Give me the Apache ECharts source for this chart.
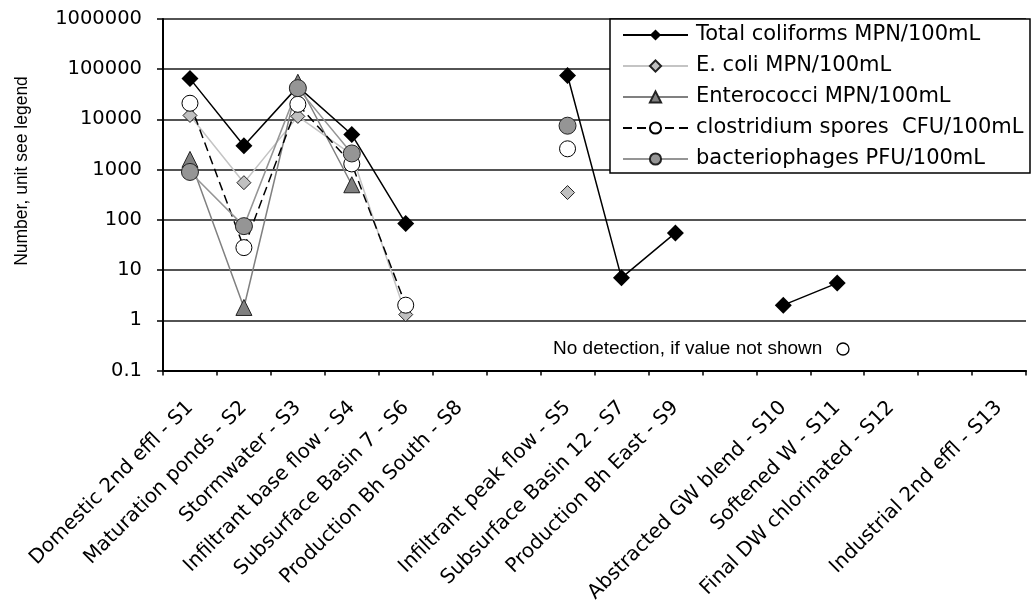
<!DOCTYPE html>
<html>
<head>
<meta charset="utf-8">
<script src="https://cdn.jsdelivr.net/npm/echarts@6/dist/echarts.min.js"></script>
<style>
  html, body { margin: 0; padding: 0; background: #fff; }
  #chart { width: 1032px; height: 606px; }
</style>
</head>
<body>
<div id="chart"></div>
<script>
// Sampling sites (blank slots separate the site groups)
const categories = [
  'Domestic 2nd effl - S1', 'Maturation ponds - S2', 'Stormwater - S3',
  'Infiltrant base flow - S4', 'Subsurface Basin 7 - S6', 'Production Bh South - S8',
  ' ',
  'Infiltrant peak flow - S5', 'Subsurface Basin 12 - S7', 'Production Bh East - S9',
  '  ',
  'Abstracted GW blend - S10', 'Softened W - S11', 'Final DW chlorinated - S12',
  '   ',
  'Industrial 2nd effl - S13'
];

// Counts per site; null = no value shown
const totalColiforms = [65000, 3000, 45000, 5000, 85, null, null, 75000, 7, 55, null, 2, 5.5, null, null, null];
const eColi          = [12000, 550, 11500, 2000, 1.3, null, null, 350, null, null, null, null, null, null, null, null];
const enterococci    = [1600, 1.8, 55000, 500, null, null, null, null, null, null, null, null, null, null, null, null];
const clostridium    = [21000, 28, 20000, 1300, 2, null, null, 2600, null, null, null, null, null, null, null, null];
const bacteriophages = [900, 75, 42000, 2100, null, null, null, 7500, null, null, null, null, null, null, null, null];

const seriesNames = [
  'Total coliforms MPN/100mL',
  'E. coli MPN/100mL',
  'Enterococci MPN/100mL',
  'clostridium spores  CFU/100mL',
  'bacteriophages PFU/100mL'
];

const yTickLabels = ['0.1', '1', '10', '100', '1000', '10000', '100000', '1000000'];

const wideFont = 'DejaVu Sans';
const arial = 'Liberation Sans, Arial, sans-serif';

const chart = echarts.init(document.getElementById('chart'), null, { renderer: 'canvas' });

function lineSeries(name, data, opts) {
  return {
    name: name,
    type: 'line',
    data: data,
    connectNulls: false,
    symbol: opts.symbol,
    symbolSize: opts.size,
    showSymbol: true,
    lineStyle: { color: opts.line, width: opts.width || 1.5, type: opts.dash || 'solid' },
    itemStyle: { color: opts.fill, borderColor: opts.border, borderWidth: opts.borderWidth == null ? 1 : opts.borderWidth },
    emphasis: { disabled: true },
    z: opts.z
  };
}

chart.setOption({
  animation: false,
  backgroundColor: '#ffffff',
  grid: {
    left: 163, right: 6, top: 19, bottom: 235.5,
    containLabel: false,
    outerBoundsMode: 'none'
  },
  xAxis: {
    type: 'category',
    data: categories,
    boundaryGap: true,
    axisLine: { show: true, lineStyle: { color: '#000', width: 2 } },
    axisTick: { show: true, alignWithLabel: false, interval: 0, length: 5, lineStyle: { color: '#000', width: 1.5 } },
    axisLabel: {
      interval: 0,
      rotate: 45,
      margin: 34,
      color: '#000',
      fontFamily: wideFont,
      fontSize: 20
    },
    splitLine: { show: false }
  },
  yAxis: {
    type: 'log',
    logBase: 10,
    min: 0.1,
    max: 1000000,
    interval: 1,
    axisLine: { show: true, onZero: false, lineStyle: { color: '#000', width: 2 } },
    axisTick: { show: true, inside: false, length: 6, lineStyle: { color: '#000', width: 1.5 } },
    axisLabel: {
      margin: 21,
      color: '#000',
      fontFamily: wideFont,
      fontSize: 19.5,
      formatter: function (v) {
        const i = Math.round(Math.log10(v)) + 1;
        return yTickLabels[i] !== undefined ? yTickLabels[i] : String(v);
      }
    },
    splitLine: { show: true, lineStyle: { color: '#1a1a1a', width: 1.5 } },
    minorTick: { show: false },
    minorSplitLine: { show: false }
  },
  legend: {
    show: true,
    orient: 'vertical',
    left: 610,
    top: 19,
    padding: [4, 5, 4, 12],
    itemGap: 7,
    itemWidth: 65,
    itemHeight: 14,
    z: 6,
    selectedMode: false,
    textStyle: { color: '#000', fontFamily: wideFont, fontSize: 21, lineHeight: 24, padding: [0, 0, 0, 3] },
    data: seriesNames
  },
  graphic: [
    {
      type: 'rect', z: 3,
      shape: { x: 610, y: 19, width: 420, height: 154 },
      style: { fill: '#ffffff', stroke: '#000', lineWidth: 1.5 }
    },
    {
      type: 'text', z: 3,
      x: 22, y: 171, rotation: Math.PI / 2,
      style: {
        text: 'Number, unit see legend',
        fill: '#000', font: '17.5px ' + arial,
        textAlign: 'center', textVerticalAlign: 'middle'
      }
    },
    {
      type: 'text', z: 3,
      x: 553, y: 349,
      style: {
        text: 'No detection, if value not shown',
        fill: '#000', font: '19px ' + arial,
        textAlign: 'left', textVerticalAlign: 'middle'
      }
    },
    {
      type: 'circle', z: 3,
      shape: { cx: 843, cy: 349, r: 6 },
      style: { fill: '#ffffff', stroke: '#000', lineWidth: 1.3 }
    }
  ],
  series: [
    lineSeries(seriesNames[0], totalColiforms, { symbol: 'diamond', size: 17, line: '#000', fill: '#000', border: '#000', borderWidth: 0, z: 2 }),
    lineSeries(seriesNames[1], eColi, { symbol: 'diamond', size: 14, line: '#c4c4c4', fill: '#c0c0c0', border: '#222', z: 2 }),
    lineSeries(seriesNames[2], enterococci, { symbol: 'triangle', size: 16, line: '#808080', fill: '#808080', border: '#222', z: 2 }),
    lineSeries(seriesNames[3], clostridium, { symbol: 'circle', size: 16, line: '#000', dash: [9, 5], fill: '#ffffff', border: '#000', z: 2 }),
    lineSeries(seriesNames[4], bacteriophages, { symbol: 'circle', size: 17, line: '#959595', fill: '#959595', border: '#222', z: 2 })
  ]
});
</script>
</body>
</html>
